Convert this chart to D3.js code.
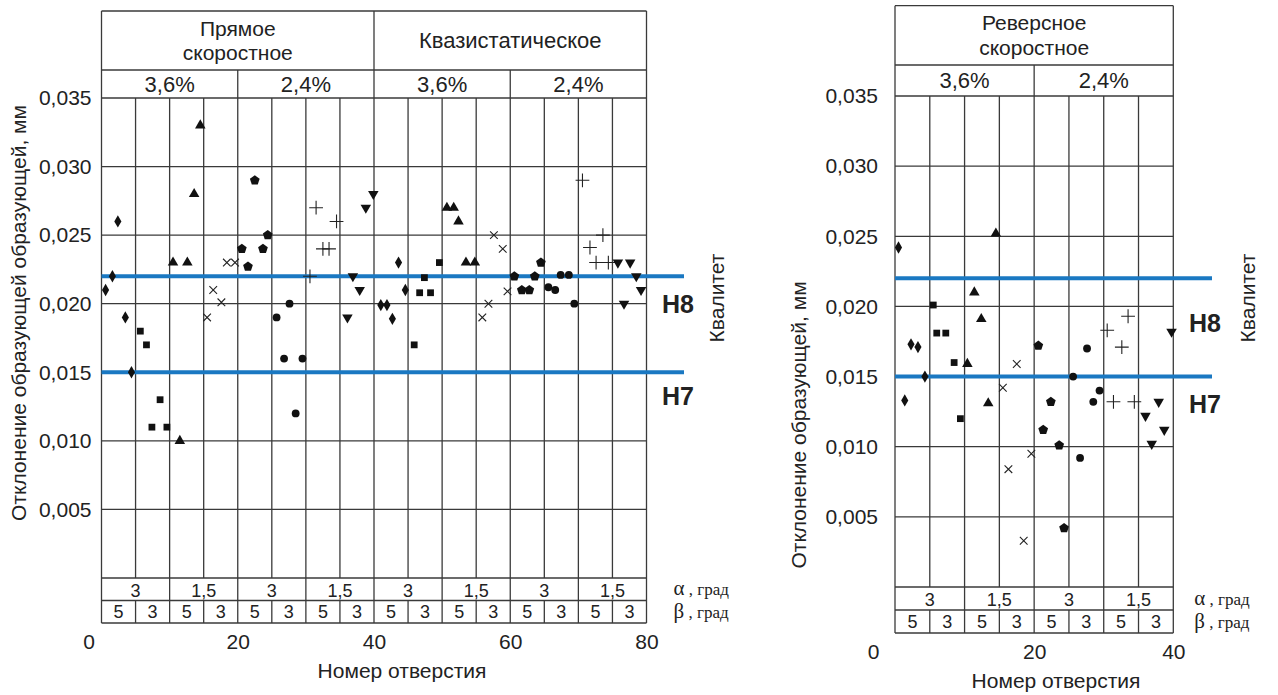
<html>
<head>
<meta charset="utf-8">
<title>Отклонение образующей</title>
<style>
  body { margin: 0; background: #fff; }
  svg { font-family: "Liberation Sans", Arial, sans-serif; }
  .grid line { stroke: #3a3a3a; stroke-width: 1.3; }
  .tick text { font-size: 21px; fill: #222; }
  .axis path, .axis line { display: none; }
</style>
<script src="https://cdnjs.cloudflare.com/ajax/libs/d3/7.8.5/d3.min.js"></script>
</head>
<body>
<script>
// ---- data ----
var leftHoles = [
  0.6, 1.6, 2.4, 3.5, 4.4,   5.7, 6.6, 7.4, 8.6, 9.6,
  10.5, 11.5, 12.6, 13.6, 14.5,   15.5, 16.4, 17.6, 18.4, 19.6,
  20.6, 21.5, 22.5, 23.7, 24.4,   25.7, 26.8, 27.6, 28.5, 29.5,
  30.6, 31.5, 32.5, 33.4, 34.5,   36.1, 36.9, 37.9, 38.8, 39.9,
  41.0, 41.9, 42.7, 43.6, 44.6,   45.9, 46.7, 47.4, 48.3, 49.6,
  50.7, 51.7, 52.4, 53.5, 54.8,   55.9, 56.8, 57.6, 58.9, 59.6,
  60.6, 61.7, 62.8, 63.6, 64.5,   65.6, 66.6, 67.4, 68.6, 69.4,
  70.6, 71.7, 72.6, 73.6, 74.4,   75.8, 76.7, 77.6, 78.5, 79.2
];
var leftValues = [
  0.021, 0.022, 0.026, 0.019, 0.015,   0.018, 0.017, 0.011, 0.013, 0.011,
  0.023, 0.010, 0.023, 0.028, 0.033,   0.019, 0.021, 0.0201, 0.023, 0.023,
  0.024, 0.0227, 0.029, 0.024, 0.025,   0.019, 0.016, 0.020, 0.012, 0.016,
  0.022, 0.027, 0.024, 0.024, 0.026,   0.019, 0.022, 0.021, 0.027, 0.028,
  0.0199, 0.0199, 0.0189, 0.023, 0.021,   0.017, 0.0208, 0.0219, 0.0208, 0.023,
  0.027, 0.027, 0.026, 0.023, 0.023,   0.019, 0.020, 0.025, 0.024, 0.0209,
  0.022, 0.021, 0.021, 0.022, 0.023,   0.0212, 0.021, 0.0221, 0.0221, 0.020,
  0.029, 0.0241, 0.023, 0.025, 0.023,   0.023, 0.020, 0.023, 0.022, 0.021
];
var rightHoles = [
  0.5, 1.4, 2.3, 3.3, 4.3,   5.5, 6.0, 7.3, 8.5, 9.4,
  10.4, 11.4, 12.4, 13.4, 14.5,   15.5, 16.3, 17.5, 18.5, 19.6,
  20.6, 21.3, 22.4, 23.6, 24.3,   25.6, 26.6, 27.6, 28.5, 29.4,
  30.5, 31.4, 32.6, 33.5, 34.4,   36.0, 36.9, 37.9, 38.7, 39.75
];
var rightValues = [
  0.0242, 0.0133, 0.0173, 0.0171, 0.015,   0.0201, 0.0181, 0.0181, 0.016, 0.012,
  0.0159, 0.021, 0.0191, 0.0131, 0.0252,   0.0142, 0.0084, 0.0159, 0.0033, 0.0095,
  0.0172, 0.0112, 0.0132, 0.0101, 0.0042,   0.015, 0.0092, 0.017, 0.0132, 0.014,
  0.0183, 0.0132, 0.0171, 0.0193, 0.0132,   0.0122, 0.0102, 0.0132, 0.0112, 0.0182
];

var yTicks = [0.005, 0.010, 0.015, 0.020, 0.025, 0.030, 0.035];
var leftXTicks = [0, 20, 40, 60, 80];
var rightXTicks = [0, 20, 40];
var leftMethods = [["Прямое", "скоростное"], ["Квазистатическое"]];
var rightMethods = [["Реверсное", "скоростное"]];
var strainLabels = ["3,6%", "2,4%"];
var alphaLabels = ["3", "1,5"];
var betaLabels = ["5", "3"];
var qualityNames = ["H8", "H7"];
var qualityValues = [0.022, 0.015];
// marker for each block of five holes
var markerOrder = ["diamond", "square", "triangle", "x", "pentagon", "circle", "plus", "triangleDown"];

var W = 1278, H = 695;
var svg = d3.select("body").append("svg")
    .attr("width", W)
    .attr("height", H);

var comma = d3.formatLocale({decimal: ",", thousands: " ", grouping: [3], currency: ["", ""]});
var fmt = comma.format(".3f");

var pentagon = {
  draw: function(context, size) {
    var r = Math.sqrt(size / 2.38);
    for (var k = 0; k < 5; k++) {
      var a = -Math.PI / 2 + k * 2 * Math.PI / 5;
      if (k === 0) context.moveTo(r * Math.cos(a), r * Math.sin(a));
      else context.lineTo(r * Math.cos(a), r * Math.sin(a));
    }
    context.closePath();
  }
};

function markerPath(name) {
  switch (name) {
    case "diamond": return d3.symbol(d3.symbolDiamond, 44)();
    case "square": return d3.symbol(d3.symbolSquare, 46)();
    case "triangle": return d3.symbol(d3.symbolTriangle, 48)();
    case "triangleDown": return d3.symbol(d3.symbolTriangle, 48)();
    case "x": return d3.symbol(d3.symbolX, 40)();
    case "plus": return d3.symbol(d3.symbolPlus, 64)();
    case "pentagon": return d3.symbol(pentagon, 62)();
    case "circle": return d3.symbol(d3.symbolCircle, 48)();
  }
}

function drawPanel(p) {
  var x = d3.scaleLinear().domain([0, p.maxHole]).range([p.x0, p.x1]);
  var y = d3.scaleLinear().domain([0, 0.035]).range([p.yBottom, p.yTop]);
  var g = svg.append("g");
  var grid = g.append("g").attr("class", "grid");

  // plot grid
  var cols = d3.range(5, p.maxHole, 5);
  grid.selectAll(".v").data(cols).enter().append("line")
      .attr("x1", function(d) { return x(d); })
      .attr("x2", function(d) { return x(d); })
      .attr("y1", p.yTop).attr("y2", p.yBottom);
  grid.selectAll(".h").data([0].concat(yTicks)).enter().append("line")
      .attr("x1", p.x0).attr("x2", p.x1)
      .attr("y1", function(d) { return y(d); })
      .attr("y2", function(d) { return y(d); });

  // header
  grid.append("line").attr("x1", p.x0).attr("x2", p.x1).attr("y1", p.headTop).attr("y2", p.headTop);
  grid.append("line").attr("x1", p.x0).attr("x2", p.x1).attr("y1", p.headMid).attr("y2", p.headMid);
  grid.selectAll(".m").data(d3.range(40, p.maxHole, 40)).enter().append("line")
      .attr("x1", function(d) { return x(d); }).attr("x2", function(d) { return x(d); })
      .attr("y1", p.headTop).attr("y2", p.headMid);
  grid.selectAll(".s").data(d3.range(20, p.maxHole, 20)).enter().append("line")
      .attr("x1", function(d) { return x(d); }).attr("x2", function(d) { return x(d); })
      .attr("y1", p.headMid).attr("y2", p.yTop);

  p.methods.forEach(function(lines, i) {
    var cx = (x(i * 40) + x(i * 40 + 40)) / 2;
    var cy = (p.headTop + p.headMid) / 2;
    lines.forEach(function(t, j) {
      g.append("text")
          .attr("x", cx)
          .attr("y", cy + (j - (lines.length - 1) / 2) * p.headLead)
          .attr("dy", "0.36em")
          .attr("text-anchor", "middle")
          .style("font-size", lines.length > 1 ? "21px" : "22px")
          .attr("fill", "#222")
          .text(t);
    });
  });
  d3.range(0, p.maxHole, 20).forEach(function(s, i) {
    g.append("text")
        .attr("x", (x(s) + x(s + 20)) / 2)
        .attr("y", (p.headMid + p.yTop) / 2)
        .attr("dy", "0.36em")
        .attr("text-anchor", "middle")
        .style("font-size", "22px")
        .attr("fill", "#222")
        .text(strainLabels[i % 2]);
  });

  // angle table below the plot
  var r1 = p.yBottom, r2 = p.yBottom + p.rowH, r3 = p.yBottom + 2 * p.rowH;
  [r2, r3].forEach(function(yy) {
    grid.append("line").attr("x1", p.x0).attr("x2", p.x1).attr("y1", yy).attr("y2", yy);
  });
  grid.selectAll(".a").data(d3.range(10, p.maxHole, 10)).enter().append("line")
      .attr("x1", function(d) { return x(d); }).attr("x2", function(d) { return x(d); })
      .attr("y1", r1).attr("y2", r2);
  grid.selectAll(".b").data(d3.range(5, p.maxHole, 5)).enter().append("line")
      .attr("x1", function(d) { return x(d); }).attr("x2", function(d) { return x(d); })
      .attr("y1", r2).attr("y2", r3);
  d3.range(0, p.maxHole, 10).forEach(function(s, i) {
    g.append("text")
        .attr("x", (x(s) + x(s + 10)) / 2).attr("y", (r1 + r2) / 2 + 1)
        .attr("dy", "0.36em").attr("text-anchor", "middle")
        .style("font-size", "18px").attr("fill", "#222")
        .text(alphaLabels[i % 2]);
  });
  d3.range(0, p.maxHole, 5).forEach(function(s, i) {
    g.append("text")
        .attr("x", (x(s) + x(s + 5)) / 2).attr("y", (r2 + r3) / 2)
        .attr("dy", "0.36em").attr("text-anchor", "middle")
        .style("font-size", "18px").attr("fill", "#222")
        .text(betaLabels[i % 2]);
  });
  [["α", r1, r2], ["β", r2, r3]].forEach(function(a) {
    var t = g.append("text")
        .attr("x", p.x1 + p.angleDx).attr("y", (a[1] + a[2]) / 2)
        .attr("dy", "0.36em")
        .style("font-family", "'Liberation Serif', 'Times New Roman', serif")
        .style("font-size", "17px").attr("fill", "#222");
    t.append("tspan").style("font-size", "21px").text(a[0]);
    t.append("tspan").text(" , град");
  });

  // outer borders
  grid.append("line").attr("x1", p.x0).attr("x2", p.x0).attr("y1", p.headTop).attr("y2", r3);
  grid.append("line").attr("x1", p.x1).attr("x2", p.x1).attr("y1", p.headTop).attr("y2", r3);

  // y axis labels
  g.append("g")
      .attr("class", "axis")
      .attr("transform", "translate(" + (p.x0 - p.tickGap) + ",0)")
      .call(d3.axisLeft(y).tickValues(yTicks).tickFormat(fmt).tickSize(0).tickPadding(0));

  // x axis labels under the table
  var xa = g.append("g")
      .attr("class", "axis")
      .attr("transform", "translate(0," + (r3 + 7) + ")")
      .call(d3.axisBottom(x).tickValues(p.xTicks).tickFormat(d3.format("d")).tickSize(0).tickPadding(4));
  xa.selectAll(".tick").filter(function(d) { return d === 0; })
      .select("text").attr("dx", p.zeroDx);

  g.append("text")
      .attr("x", p.xTitleX).attr("y", r3 + 47).attr("dy", "0.36em")
      .attr("text-anchor", "middle").style("font-size", "21px").attr("fill", "#222")
      .text("Номер отверстия");

  g.append("text")
      .attr("transform", "translate(" + p.yTitleX + "," + p.yTitleY + ") rotate(-90)")
      .attr("text-anchor", "middle").attr("dy", "0.36em")
      .style("font-size", "21px").attr("fill", "#222")
      .text(p.yTitle);

  // tolerance lines
  qualityValues.forEach(function(v, i) {
    g.append("line")
        .attr("x1", p.x0).attr("x2", p.lineEnd)
        .attr("y1", y(v)).attr("y2", y(v))
        .attr("stroke", "#1a78c2").attr("stroke-width", 4);
    g.append("text")
        .attr("x", p.qLabelX).attr("y", y(v) + p.qLabelDy[i])
        .attr("dy", "0.36em")
        .style("font-size", "25px").style("font-weight", "bold").attr("fill", "#222")
        .text(qualityNames[i]);
  });
  g.append("text")
      .attr("transform", "translate(" + p.kvX + ",298) rotate(-90)")
      .attr("text-anchor", "middle").attr("dy", "0.36em")
      .style("font-size", "21px").attr("fill", "#222")
      .text("Квалитет");

  // points
  var pts = p.holes.map(function(h, i) { return {h: h, v: p.values[i], m: markerOrder[Math.floor(i / 5) % 8]}; });
  g.selectAll(".pt").data(pts).enter().append("path")
      .attr("class", "pt")
      .attr("d", function(d) { return markerPath(d.m); })
      .attr("transform", function(d) {
        return "translate(" + x(d.h) + "," + y(d.v) + ")" + (d.m === "triangleDown" ? " rotate(180)" : "");
      })
      .attr("fill", function(d) { return (d.m === "x" || d.m === "plus") ? "none" : "#111"; })
      .attr("stroke", function(d) { return (d.m === "x" || d.m === "plus") ? "#222" : "none"; })
      .attr("stroke-width", 1.1);
}

drawPanel({
  holes: leftHoles, values: leftValues, maxHole: 80, xTicks: leftXTicks,
  x0: 101.5, x1: 646.5, yTop: 98, yBottom: 578, headTop: 11, headMid: 70, rowH: 22.5, headLead: 24,
  methods: leftMethods, tickGap: 10, zeroDx: -13, xTitleX: 402, yTitleX: 18, yTitleY: 313,
  yTitle: "Отклонение образующей образующей, мм",
  lineEnd: 684, qLabelX: 662, qLabelDy: [28, 24], kvX: 716, angleDx: 27
});

drawPanel({
  holes: rightHoles, values: rightValues, maxHole: 40, xTicks: rightXTicks,
  x0: 895, x1: 1173.3, yTop: 96, yBottom: 587, headTop: 5.7, headMid: 65, rowH: 23, headLead: 25,
  methods: rightMethods, tickGap: 17, zeroDx: -22, xTitleX: 1056, yTitleX: 798, yTitleY: 425,
  yTitle: "Отклонение образующей, мм",
  lineEnd: 1212, qLabelX: 1189, qLabelDy: [45, 27], kvX: 1247, angleDx: 21
});
</script>
</body>
</html>
